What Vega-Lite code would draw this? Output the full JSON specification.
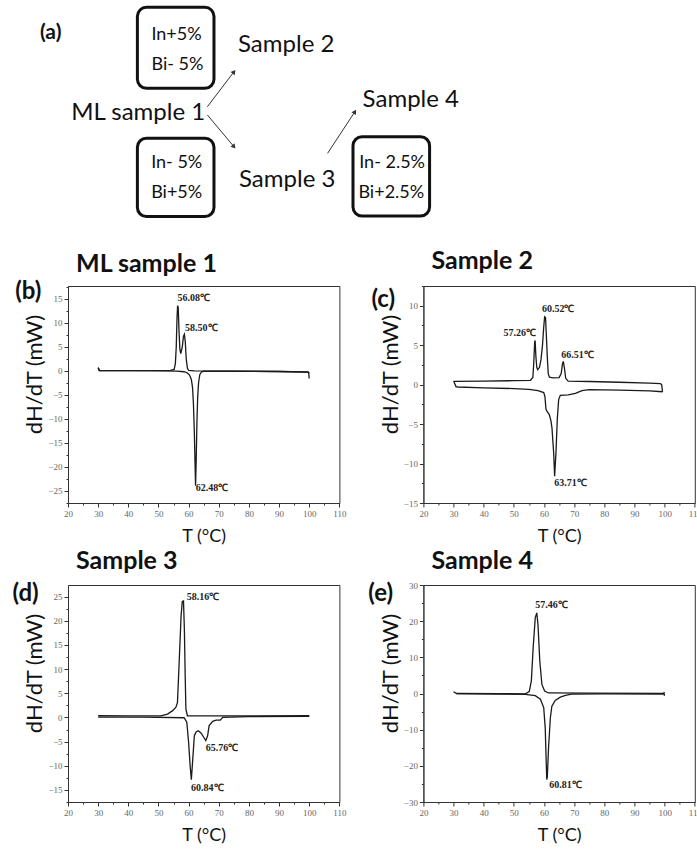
{
  "$schema": "https://vega.github.io/schema/vega-lite/v6.json",
  "background": "white",
  "padding": {"left": 12, "top": 0, "right": 0, "bottom": 0},
  "columns": 2,
  "bounds": "flush",
  "spacing": {"row": 82, "column": 83.4},
  "config": {
    "view": {"stroke": "#333", "strokeWidth": 1},
    "axis": {
      "grid": false,
      "labelFont": "Liberation Serif",
      "labelFontSize": 9,
      "labelColor": "#666",
      "labelPadding": 2,
      "labelOverlap": false,
      "labelFlush": false,
      "tickColor": "#333",
      "domainColor": "#333",
      "titleFont": "Lato",
      "titleFontWeight": "normal",
      "titleColor": "#111"
    },
    "axisX": {"titleFontSize": 18, "titlePadding": 9},
    "axisY": {"titleFontSize": 22, "titlePadding": 1, "titleY": 88},
    "title": {"font": "Lato", "fontSize": 25, "fontWeight": "bold", "color": "#111", "anchor": "start", "frame": "group", "dx": 8, "baseline": "alphabetic"}
  },
  "datasets": {
    "diagramLeftText": [
      {"x": -6.37, "y": 16.18, "kind": "letter", "label": "(a)"},
      {"x": 39.98, "y": 17.16, "kind": "small", "label": "In+5%"},
      {"x": 40.31, "y": 31.86, "kind": "small", "label": "Bi- 5%"},
      {"x": 40.05, "y": 79.9, "kind": "small", "label": "In- 5%"},
      {"x": 40.05, "y": 94.61, "kind": "small", "label": "Bi+5%"},
      {"x": 80.4, "y": 22.06, "kind": "big", "label": "Sample 2"},
      {"x": 25.87, "y": 55.39, "kind": "big", "label": "ML sample 1"},
      {"x": 80.77, "y": 88.24, "kind": "big", "label": "Sample 3"}
    ],
    "diagramLeftBoxes": [
      {"x": 25.57, "x2": 53.79, "y": 3.58, "y2": 43.28},
      {"x": 25.57, "x2": 53.79, "y": 67.79, "y2": 106.13}
    ],
    "diagramArrows": [
      {"x": 51.36, "y": 52.3, "x2": 61.16, "y2": 35.15, "ang": 37},
      {"x": 51.36, "y": 56.37, "x2": 61.16, "y2": 71.91, "ang": 140},
      {"x": 95.65, "y": 75.15, "x2": 105.71, "y2": 54.75, "ang": 33}
    ],
    "diagramRightText": [
      {"x": -11.53, "y": 79.9, "kind": "small", "label": "In- 2.5%"},
      {"x": -11.83, "y": 94.61, "kind": "small", "label": "Bi+2.5%"},
      {"x": -4.64, "y": 49.02, "kind": "big", "label": "Sample 4"}
    ],
    "diagramRightBoxes": [
      {"x": -25.94, "x2": 2.28, "y": 67.01, "y2": 105.88}
    ],
    "curve_b": [
      {"run": "heating", "T": 30, "P": 0.6}, {"run": "heating", "T": 30.3, "P": 0.05}, {"run": "heating", "T": 40, "P": 0.02},
      {"run": "heating", "T": 50, "P": -0.02}, {"run": "heating", "T": 56, "P": -0.08}, {"run": "heating", "T": 58.5, "P": -0.2},
      {"run": "heating", "T": 59.5, "P": -0.4}, {"run": "heating", "T": 60.3, "P": -0.9}, {"run": "heating", "T": 60.9, "P": -1.8},
      {"run": "heating", "T": 61.3, "P": -3.5}, {"run": "heating", "T": 61.6, "P": -7}, {"run": "heating", "T": 61.9, "P": -13},
      {"run": "heating", "T": 62.15, "P": -20}, {"run": "heating", "T": 62.3, "P": -24}, {"run": "heating", "T": 62.5, "P": -19},
      {"run": "heating", "T": 62.75, "P": -11}, {"run": "heating", "T": 63.0, "P": -5.5}, {"run": "heating", "T": 63.3, "P": -2.5},
      {"run": "heating", "T": 63.7, "P": -0.8}, {"run": "heating", "T": 64.3, "P": -0.2}, {"run": "heating", "T": 65, "P": -0.1},
      {"run": "heating", "T": 75, "P": -0.1}, {"run": "heating", "T": 90, "P": -0.15}, {"run": "heating", "T": 99.6, "P": -0.25},
      {"run": "heating", "T": 99.8, "P": -0.4}, {"run": "heating", "T": 100, "P": -1.6},
      {"run": "cooling", "T": 100, "P": -0.5}, {"run": "cooling", "T": 99.7, "P": -0.3}, {"run": "cooling", "T": 90, "P": -0.15},
      {"run": "cooling", "T": 75, "P": -0.05}, {"run": "cooling", "T": 62, "P": 0}, {"run": "cooling", "T": 60, "P": 0.1},
      {"run": "cooling", "T": 59.6, "P": 0.5}, {"run": "cooling", "T": 59.2, "P": 2.5}, {"run": "cooling", "T": 58.9, "P": 6},
      {"run": "cooling", "T": 58.6, "P": 7.6}, {"run": "cooling", "T": 58.3, "P": 7.2}, {"run": "cooling", "T": 57.9, "P": 5},
      {"run": "cooling", "T": 57.4, "P": 3.6}, {"run": "cooling", "T": 57.1, "P": 4.5}, {"run": "cooling", "T": 56.8, "P": 8.5},
      {"run": "cooling", "T": 56.55, "P": 13.2}, {"run": "cooling", "T": 56.35, "P": 13.6}, {"run": "cooling", "T": 56.15, "P": 11},
      {"run": "cooling", "T": 55.9, "P": 5}, {"run": "cooling", "T": 55.6, "P": 1.5}, {"run": "cooling", "T": 55.2, "P": 0.3},
      {"run": "cooling", "T": 54, "P": 0.1}, {"run": "cooling", "T": 40, "P": 0.05}, {"run": "cooling", "T": 30.5, "P": 0.05},
      {"run": "cooling", "T": 30, "P": 0.7}
    ],
    "peaks_b": [
      {"T": 56.3, "P": 15.1, "label": "56.08℃"},
      {"T": 58.8, "P": 9.0, "label": "58.50℃"},
      {"T": 62.4, "P": -24.4, "label": "62.48℃"}
    ],
    "curve_c": [
      {"run": "cooling", "T": 30, "P": 0.42}, {"run": "cooling", "T": 40, "P": 0.45}, {"run": "cooling", "T": 50, "P": 0.5},
      {"run": "cooling", "T": 55.5, "P": 0.55}, {"run": "cooling", "T": 56.3, "P": 0.9}, {"run": "cooling", "T": 56.6, "P": 2.8},
      {"run": "cooling", "T": 56.9, "P": 5.4}, {"run": "cooling", "T": 57.05, "P": 5.6}, {"run": "cooling", "T": 57.3, "P": 3.6},
      {"run": "cooling", "T": 57.6, "P": 2.2}, {"run": "cooling", "T": 57.9, "P": 1.9}, {"run": "cooling", "T": 58.5, "P": 2.2},
      {"run": "cooling", "T": 59.0, "P": 3.2}, {"run": "cooling", "T": 59.5, "P": 5.0}, {"run": "cooling", "T": 59.9, "P": 7.3},
      {"run": "cooling", "T": 60.2, "P": 8.6}, {"run": "cooling", "T": 60.5, "P": 8.5}, {"run": "cooling", "T": 60.8, "P": 6},
      {"run": "cooling", "T": 61.1, "P": 3.4}, {"run": "cooling", "T": 61.4, "P": 1.4}, {"run": "cooling", "T": 61.8, "P": 0.95},
      {"run": "cooling", "T": 63, "P": 0.85}, {"run": "cooling", "T": 65, "P": 0.9}, {"run": "cooling", "T": 65.7, "P": 1.4},
      {"run": "cooling", "T": 66.1, "P": 2.6}, {"run": "cooling", "T": 66.4, "P": 2.95}, {"run": "cooling", "T": 66.8, "P": 2.0},
      {"run": "cooling", "T": 67.2, "P": 0.8}, {"run": "cooling", "T": 68, "P": 0.45}, {"run": "cooling", "T": 75, "P": 0.4},
      {"run": "cooling", "T": 85, "P": 0.3}, {"run": "cooling", "T": 95, "P": 0.2}, {"run": "cooling", "T": 98.6, "P": 0.13},
      {"run": "cooling", "T": 99, "P": 0}, {"run": "cooling", "T": 99.3, "P": -0.9},
      {"run": "heating", "T": 30, "P": 0.42}, {"run": "heating", "T": 30.2, "P": 0.3}, {"run": "heating", "T": 30.8, "P": -0.25},
      {"run": "heating", "T": 31.5, "P": -0.3}, {"run": "heating", "T": 40, "P": -0.4}, {"run": "heating", "T": 50, "P": -0.5},
      {"run": "heating", "T": 55, "P": -0.6}, {"run": "heating", "T": 58, "P": -0.75}, {"run": "heating", "T": 59.9, "P": -1.0},
      {"run": "heating", "T": 60.3, "P": -1.5}, {"run": "heating", "T": 60.64, "P": -3.1}, {"run": "heating", "T": 61.0, "P": -3.4},
      {"run": "heating", "T": 61.75, "P": -3.8}, {"run": "heating", "T": 62.3, "P": -4.6}, {"run": "heating", "T": 62.64, "P": -5.5},
      {"run": "heating", "T": 63.19, "P": -8.6}, {"run": "heating", "T": 63.52, "P": -11.6}, {"run": "heating", "T": 63.96, "P": -8.6},
      {"run": "heating", "T": 64.4, "P": -4.4}, {"run": "heating", "T": 64.85, "P": -1.9}, {"run": "heating", "T": 65.4, "P": -1.35},
      {"run": "heating", "T": 68, "P": -1.3}, {"run": "heating", "T": 70.4, "P": -1.1}, {"run": "heating", "T": 72.6, "P": -0.75},
      {"run": "heating", "T": 75, "P": -0.63}, {"run": "heating", "T": 85, "P": -0.7}, {"run": "heating", "T": 95, "P": -0.8},
      {"run": "heating", "T": 99.3, "P": -0.9}
    ],
    "peaks_c": [
      {"T": 46.6, "P": 6.5, "label": "57.26℃"},
      {"T": 59.3, "P": 9.6, "label": "60.52℃"},
      {"T": 65.7, "P": 3.7, "label": "66.51℃"},
      {"T": 63.4, "P": -12.5, "label": "63.71℃"}
    ],
    "curve_d": [
      {"run": "cooling", "T": 30, "P": 0.35}, {"run": "cooling", "T": 40, "P": 0.3}, {"run": "cooling", "T": 50.8, "P": 0.3},
      {"run": "cooling", "T": 53, "P": 0.7}, {"run": "cooling", "T": 54.7, "P": 1.4}, {"run": "cooling", "T": 55.8, "P": 2.1},
      {"run": "cooling", "T": 56.3, "P": 3.1}, {"run": "cooling", "T": 56.9, "P": 12}, {"run": "cooling", "T": 57.5, "P": 21},
      {"run": "cooling", "T": 57.9, "P": 24}, {"run": "cooling", "T": 58.3, "P": 24.1}, {"run": "cooling", "T": 58.6, "P": 18},
      {"run": "cooling", "T": 58.85, "P": 9}, {"run": "cooling", "T": 59.1, "P": 1.7}, {"run": "cooling", "T": 59.6, "P": 0.35},
      {"run": "cooling", "T": 70, "P": 0.3}, {"run": "cooling", "T": 100, "P": 0.35},
      {"run": "heating", "T": 30, "P": 0.07}, {"run": "heating", "T": 45, "P": 0.05}, {"run": "heating", "T": 58.5, "P": -0.07},
      {"run": "heating", "T": 59.4, "P": -1}, {"run": "heating", "T": 60, "P": -5.2}, {"run": "heating", "T": 60.5, "P": -10},
      {"run": "heating", "T": 60.9, "P": -12.9}, {"run": "heating", "T": 61.3, "P": -9.3}, {"run": "heating", "T": 61.9, "P": -3.8},
      {"run": "heating", "T": 62.5, "P": -3.0}, {"run": "heating", "T": 63.2, "P": -2.75}, {"run": "heating", "T": 64.1, "P": -3.2},
      {"run": "heating", "T": 65, "P": -4.1}, {"run": "heating", "T": 65.7, "P": -4.8}, {"run": "heating", "T": 66.3, "P": -3.8},
      {"run": "heating", "T": 66.8, "P": -1.7}, {"run": "heating", "T": 68, "P": -0.8}, {"run": "heating", "T": 69.1, "P": -0.55},
      {"run": "heating", "T": 70.5, "P": -0.55}, {"run": "heating", "T": 71.3, "P": 0}, {"run": "heating", "T": 80, "P": 0.15},
      {"run": "heating", "T": 100, "P": 0.2}
    ],
    "peaks_d": [
      {"T": 59.4, "P": 25.0, "label": "58.16℃"},
      {"T": 65.7, "P": -6.4, "label": "65.76℃"},
      {"T": 60.8, "P": -14.7, "label": "60.84℃"}
    ],
    "curve_e": [
      {"run": "cooling", "T": 30, "P": 0.5}, {"run": "cooling", "T": 31, "P": 0}, {"run": "cooling", "T": 45, "P": -0.05},
      {"run": "cooling", "T": 53.8, "P": -0.1}, {"run": "cooling", "T": 55.1, "P": 0.5}, {"run": "cooling", "T": 55.8, "P": 3.5},
      {"run": "cooling", "T": 56.4, "P": 12.7}, {"run": "cooling", "T": 57.1, "P": 21}, {"run": "cooling", "T": 57.6, "P": 22.3},
      {"run": "cooling", "T": 58.0, "P": 19}, {"run": "cooling", "T": 58.6, "P": 9}, {"run": "cooling", "T": 59.3, "P": 2.5},
      {"run": "cooling", "T": 60.2, "P": 0.7}, {"run": "cooling", "T": 61.5, "P": 0.15}, {"run": "cooling", "T": 75, "P": 0.1},
      {"run": "cooling", "T": 99.7, "P": 0.05}, {"run": "cooling", "T": 99.9, "P": 0.4},
      {"run": "heating", "T": 31, "P": -0.05}, {"run": "heating", "T": 45, "P": -0.15}, {"run": "heating", "T": 53.8, "P": -0.25},
      {"run": "heating", "T": 57.1, "P": -0.6}, {"run": "heating", "T": 58.8, "P": -1.6}, {"run": "heating", "T": 59.9, "P": -3.9},
      {"run": "heating", "T": 60.4, "P": -9.5}, {"run": "heating", "T": 60.9, "P": -23.8}, {"run": "heating", "T": 61.1, "P": -23},
      {"run": "heating", "T": 61.5, "P": -15}, {"run": "heating", "T": 62.1, "P": -6.7}, {"run": "heating", "T": 62.6, "P": -3.5},
      {"run": "heating", "T": 63.7, "P": -1.9}, {"run": "heating", "T": 65.4, "P": -1.0}, {"run": "heating", "T": 67.1, "P": -0.5},
      {"run": "heating", "T": 69.1, "P": -0.2}, {"run": "heating", "T": 80, "P": -0.1}, {"run": "heating", "T": 99.9, "P": -0.15},
      {"run": "heating", "T": 99.9, "P": -0.6}
    ],
    "peaks_e": [
      {"T": 57.1, "P": 24.5, "label": "57.46℃"},
      {"T": 61.7, "P": -25.4, "label": "60.81℃"}
    ]
  },
  "concat": [
    {
      "width": 271.4, "height": 204,
      "view": {"stroke": null},
      "encoding": {
        "x": {"field": "x", "type": "quantitative", "scale": {"domain": [0, 100], "nice": false, "zero": false}, "axis": null},
        "y": {"field": "y", "type": "quantitative", "scale": {"domain": [0, 100], "nice": false, "zero": false, "reverse": true}, "axis": null}
      },
      "layer": [
        {"data": {"name": "diagramLeftBoxes"}, "mark": {"type": "rect", "fillOpacity": 0, "stroke": "#111", "strokeWidth": 3, "cornerRadius": 9},
         "encoding": {"x2": {"field": "x2"}, "y2": {"field": "y2"}}},
        {"data": {"name": "diagramArrows"}, "mark": {"type": "rule", "color": "#333", "strokeWidth": 1},
         "encoding": {"x2": {"field": "x2"}, "y2": {"field": "y2"}}},
        {"data": {"name": "diagramArrows"}, "mark": {"type": "point", "shape": "triangle-up", "filled": true, "color": "#333", "size": 28, "opacity": 1},
         "encoding": {"x": {"field": "x2", "type": "quantitative"}, "y": {"field": "y2", "type": "quantitative"}, "angle": {"field": "ang", "type": "quantitative", "scale": null}}},
        {"data": {"name": "diagramLeftText"}, "transform": [{"filter": "datum.kind === 'small'"}],
         "mark": {"type": "text", "font": "Lato", "fontSize": 18, "color": "#111", "align": "center", "baseline": "middle"},
         "encoding": {"text": {"field": "label"}}},
        {"data": {"name": "diagramLeftText"}, "transform": [{"filter": "datum.kind === 'big'"}],
         "mark": {"type": "text", "font": "Lato", "fontSize": 24, "color": "#111", "align": "center", "baseline": "middle"},
         "encoding": {"text": {"field": "label"}}},
        {"data": {"name": "diagramLeftText"}, "transform": [{"filter": "datum.kind === 'letter'"}],
         "mark": {"type": "text", "font": "Lato", "fontSize": 21, "fontWeight": "bold", "color": "#111", "align": "center", "baseline": "middle"},
         "encoding": {"text": {"field": "label"}}}
      ]
    },
    {
      "width": 271.4, "height": 204,
      "view": {"stroke": null},
      "encoding": {
        "x": {"field": "x", "type": "quantitative", "scale": {"domain": [0, 100], "nice": false, "zero": false}, "axis": null},
        "y": {"field": "y", "type": "quantitative", "scale": {"domain": [0, 100], "nice": false, "zero": false, "reverse": true}, "axis": null}
      },
      "layer": [
        {"data": {"name": "diagramRightBoxes"}, "mark": {"type": "rect", "fillOpacity": 0, "stroke": "#111", "strokeWidth": 3, "cornerRadius": 9},
         "encoding": {"x2": {"field": "x2"}, "y2": {"field": "y2"}}},
        {"data": {"name": "diagramRightText"}, "transform": [{"filter": "datum.kind === 'small'"}],
         "mark": {"type": "text", "font": "Lato", "fontSize": 18, "color": "#111", "align": "center", "baseline": "middle"},
         "encoding": {"text": {"field": "label"}}},
        {"data": {"name": "diagramRightText"}, "transform": [{"filter": "datum.kind === 'big'"}],
         "mark": {"type": "text", "font": "Lato", "fontSize": 24, "color": "#111", "align": "center", "baseline": "middle"},
         "encoding": {"text": {"field": "label"}}}
      ]
    },
    {
      "width": 271.4, "height": 217,
      "title": {"text": "ML sample 1", "offset": 3},
      "encoding": {
        "x": {"field": "T", "type": "quantitative", "title": "T (°C)", "scale": {"domain": [20, 110], "nice": false, "zero": false},
              "axis": {"values": [20,25,30,35,40,45,50,55,60,65,70,75,80,85,90,95,100,105,110], "labelExpr": "datum.value % 10 === 0 ? datum.label : ''", "tickSize": {"condition": {"test": "datum.value % 10 === 0", "value": 4}, "value": 2}}},
        "y": {"field": "P", "type": "quantitative", "title": "dH/dT (mW)", "scale": {"domain": [-27.6, 17.7], "nice": false, "zero": false},
              "axis": {"values": [-27.5,-25,-22.5,-20,-17.5,-15,-12.5,-10,-7.5,-5,-2.5,0,2.5,5,7.5,10,12.5,15,17.5], "format": "d", "labelExpr": "datum.value % 5 === 0 ? datum.label : ''", "tickSize": {"condition": {"test": "datum.value % 5 === 0", "value": 4}, "value": 2}}}
      },
      "layer": [
        {"data": {"name": "curve_b"}, "transform": [{"window": [{"op": "row_number", "as": "i"}], "groupby": ["run"]}],
         "mark": {"type": "line", "color": "#1a1a1a", "strokeWidth": 1.3},
         "encoding": {"detail": {"field": "run"}, "order": {"field": "i", "type": "quantitative"}}},
        {"data": {"name": "peaks_b"}, "mark": {"type": "text", "font": "Liberation Serif", "fontWeight": "bold", "fontSize": 10, "color": "#222", "align": "left", "baseline": "middle"},
         "encoding": {"text": {"field": "label"}}},
        {"data": {"values": [{"T": 6.8, "P": 16.4, "label": "(b)"}]}, "mark": {"type": "text", "font": "Lato", "fontWeight": "bold", "fontSize": 24, "color": "#111", "align": "center", "baseline": "middle"},
         "encoding": {"text": {"field": "label"}}}
      ]
    },
    {
      "width": 271.4, "height": 217,
      "title": {"text": "Sample 2", "offset": 8},
      "encoding": {
        "x": {"field": "T", "type": "quantitative", "title": "T (°C)", "scale": {"domain": [20, 110], "nice": false, "zero": false},
              "axis": {"values": [20,25,30,35,40,45,50,55,60,65,70,75,80,85,90,95,100,105,110], "labelExpr": "datum.value % 10 === 0 ? datum.label : ''", "tickSize": {"condition": {"test": "datum.value % 10 === 0", "value": 4}, "value": 2}}},
        "y": {"field": "P", "type": "quantitative", "title": "dH/dT (mW)", "scale": {"domain": [-15, 12.5], "nice": false, "zero": false},
              "axis": {"values": [-15,-12.5,-10,-7.5,-5,-2.5,0,2.5,5,7.5,10,12.5], "format": "d", "labelExpr": "datum.value % 5 === 0 ? datum.label : ''", "tickSize": {"condition": {"test": "datum.value % 5 === 0", "value": 4}, "value": 2}}}
      },
      "layer": [
        {"data": {"name": "curve_c"}, "transform": [{"window": [{"op": "row_number", "as": "i"}], "groupby": ["run"]}],
         "mark": {"type": "line", "color": "#1a1a1a", "strokeWidth": 1.3},
         "encoding": {"detail": {"field": "run"}, "order": {"field": "i", "type": "quantitative"}}},
        {"data": {"name": "peaks_c"}, "mark": {"type": "text", "font": "Liberation Serif", "fontWeight": "bold", "fontSize": 10, "color": "#222", "align": "left", "baseline": "middle"},
         "encoding": {"text": {"field": "label"}}},
        {"data": {"values": [{"T": 6.67, "P": 10.7, "label": "(c)"}]}, "mark": {"type": "text", "font": "Lato", "fontWeight": "bold", "fontSize": 24, "color": "#111", "align": "center", "baseline": "middle"},
         "encoding": {"text": {"field": "label"}}}
      ]
    },
    {
      "width": 271.4, "height": 217,
      "title": {"text": "Sample 3", "offset": 8},
      "encoding": {
        "x": {"field": "T", "type": "quantitative", "title": "T (°C)", "scale": {"domain": [20, 110], "nice": false, "zero": false},
              "axis": {"values": [20,25,30,35,40,45,50,55,60,65,70,75,80,85,90,95,100,105,110], "labelExpr": "datum.value % 10 === 0 ? datum.label : ''", "tickSize": {"condition": {"test": "datum.value % 10 === 0", "value": 4}, "value": 2}}},
        "y": {"field": "P", "type": "quantitative", "title": "dH/dT (mW)", "scale": {"domain": [-17.5, 27.4], "nice": false, "zero": false},
              "axis": {"values": [-17.5,-15,-12.5,-10,-7.5,-5,-2.5,0,2.5,5,7.5,10,12.5,15,17.5,20,22.5,25], "format": "d", "labelExpr": "datum.value % 5 === 0 ? datum.label : ''", "tickSize": {"condition": {"test": "datum.value % 5 === 0", "value": 4}, "value": 2}}}
      },
      "layer": [
        {"data": {"name": "curve_d"}, "transform": [{"window": [{"op": "row_number", "as": "i"}], "groupby": ["run"]}],
         "mark": {"type": "line", "color": "#1a1a1a", "strokeWidth": 1.3},
         "encoding": {"detail": {"field": "run"}, "order": {"field": "i", "type": "quantitative"}}},
        {"data": {"name": "peaks_d"}, "mark": {"type": "text", "font": "Liberation Serif", "fontWeight": "bold", "fontSize": 10, "color": "#222", "align": "left", "baseline": "middle"},
         "encoding": {"text": {"field": "label"}}},
        {"data": {"values": [{"T": 5.95, "P": 25.6, "label": "(d)"}]}, "mark": {"type": "text", "font": "Lato", "fontWeight": "bold", "fontSize": 24, "color": "#111", "align": "center", "baseline": "middle"},
         "encoding": {"text": {"field": "label"}}}
      ]
    },
    {
      "width": 271.4, "height": 217,
      "title": {"text": "Sample 4", "offset": 7.5},
      "encoding": {
        "x": {"field": "T", "type": "quantitative", "title": "T (°C)", "scale": {"domain": [20, 110], "nice": false, "zero": false},
              "axis": {"values": [20,25,30,35,40,45,50,55,60,65,70,75,80,85,90,95,100,105,110], "labelExpr": "datum.value % 10 === 0 ? datum.label : ''", "tickSize": {"condition": {"test": "datum.value % 10 === 0", "value": 4}, "value": 2}}},
        "y": {"field": "P", "type": "quantitative", "title": "dH/dT (mW)", "scale": {"domain": [-30, 30], "nice": false, "zero": false},
              "axis": {"values": [-30,-25,-20,-15,-10,-5,0,5,10,15,20,25,30], "format": "d", "labelExpr": "datum.value % 10 === 0 ? datum.label : ''", "tickSize": {"condition": {"test": "datum.value % 10 === 0", "value": 4}, "value": 2}}}
      },
      "layer": [
        {"data": {"name": "curve_e"}, "transform": [{"window": [{"op": "row_number", "as": "i"}], "groupby": ["run"]}],
         "mark": {"type": "line", "color": "#1a1a1a", "strokeWidth": 1.3},
         "encoding": {"detail": {"field": "run"}, "order": {"field": "i", "type": "quantitative"}}},
        {"data": {"name": "peaks_e"}, "mark": {"type": "text", "font": "Liberation Serif", "fontWeight": "bold", "fontSize": 10, "color": "#222", "align": "left", "baseline": "middle"},
         "encoding": {"text": {"field": "label"}}},
        {"data": {"values": [{"T": 5.84, "P": 27.5, "label": "(e)"}]}, "mark": {"type": "text", "font": "Lato", "fontWeight": "bold", "fontSize": 24, "color": "#111", "align": "center", "baseline": "middle"},
         "encoding": {"text": {"field": "label"}}}
      ]
    }
  ]
}
